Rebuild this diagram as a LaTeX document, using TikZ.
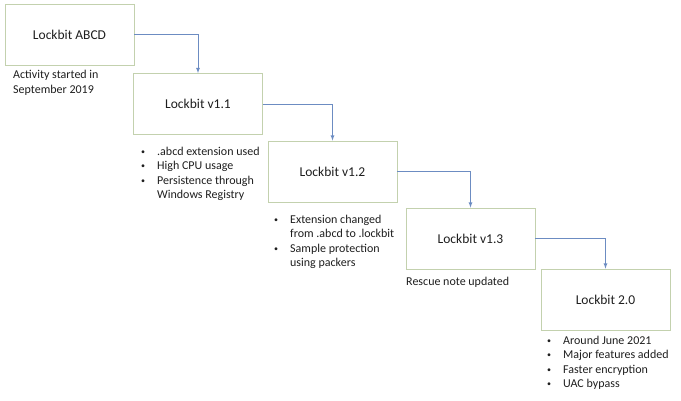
\documentclass[tikz,border=0pt]{standalone}
\usepackage{fontspec}
\setmainfont{Carlito}
\usepackage{tikz}
\usetikzlibrary{calc}
\usepackage{color}

\definecolor{boxline}{HTML}{C3D1AE}
\definecolor{arrline}{HTML}{6C8CC2}
\definecolor{txt}{HTML}{1E1E1E}

\newcommand{\dotmark}{\raisebox{1.2pt}{\fontsize{8}{8}\selectfont\textbullet}}

\begin{document}
\begin{tikzpicture}[x=1pt, y=1pt,
             every node/.style = {shape=rectangle, text=txt},
             box/.style = {draw=boxline, line width=0.8pt, minimum width=129pt,
                           minimum height=61pt, font=\fontsize{13.5}{16}\selectfont},
             note/.style = {inner sep=0pt, anchor=north west, align=left,
                            font=\fontsize{12}{14.5}\selectfont},
             link/.style = {draw=arrline, line width=0.8pt, -latex}]
\useasboundingbox (0,0) rectangle (681,-400);

\node [box] (abcd) at (69.5,-34.5) {Lockbit ABCD};
\node [box] (v11) at (198,-104) {Lockbit v1.1};
\node [box] (v12) at (332.5,-171.5) {Lockbit v1.2};
\node [box] (v13) at (470.5,-238.5) {Lockbit v1.3};
\node [box] (v20) at (605.5,-299.5) {Lockbit 2.0};

\draw [link] (abcd.east) -| (v11.north);
\draw [link] (v11.east) -| (v12.north);
\draw [link] (v12.east) -| (v13.north);
\draw [link] (v13.east) -| (v20.north);

\node [note] (abcdnote) at (13,-70) {Activity started in\\September 2019};
\node [note] (v11note) at (141,-145) {\begin{tabular}{@{}l@{\hspace{12pt}}l@{}}
  \dotmark & .abcd extension used\\
  \dotmark & High CPU usage\\
  \dotmark & Persistence through\\
           & Windows Registry
  \end{tabular}};
\node [note] (v12note) at (274,-213) {\begin{tabular}{@{}l@{\hspace{12pt}}l@{}}
  \dotmark & Extension changed\\
           & from .abcd to .lockbit\\
  \dotmark & Sample protection\\
           & using packers
  \end{tabular}};
\node [note] (v13note) at (406,-277) {Rescue note updated};
\node [note] (v20note) at (547,-334) {\begin{tabular}{@{}l@{\hspace{12pt}}l@{}}
  \dotmark & Around June 2021\\
  \dotmark & Major features added\\
  \dotmark & Faster encryption\\
  \dotmark & UAC bypass
  \end{tabular}};

\end{tikzpicture}
\end{document}
